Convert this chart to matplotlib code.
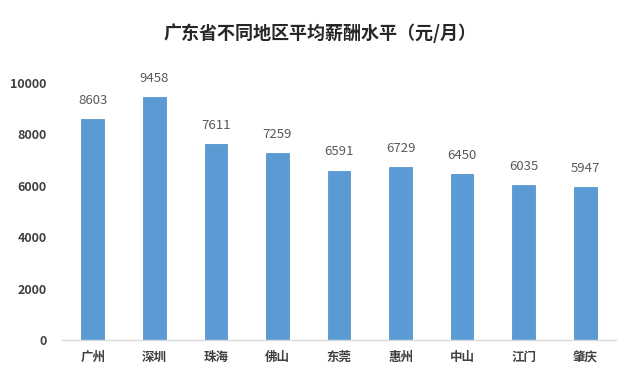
import matplotlib
matplotlib.use("Agg")
import matplotlib.pyplot as plt

plt.rcParams['font.family'] = ['Noto Sans CJK SC', 'DejaVu Sans']

cities = ["广州", "深圳", "珠海", "佛山", "东莞", "惠州", "中山", "江门", "肇庆"]
salaries = [8603, 9458, 7611, 7259, 6591, 6729, 6450, 6035, 5947]
yticks = [0, 2000, 4000, 6000, 8000, 10000]
title = "广东省不同地区平均薪酬水平（元/月）"

fig = plt.figure(figsize=(6.4, 3.77), dpi=100)
ax = fig.add_axes([62/640, 1-340/377, (616-62)/640, (340-83)/377])

x = range(len(cities))
bars = ax.bar(x, salaries, width=0.37, color="#5B9BD5", edgecolor="#4A8AC4", linewidth=0.5, zorder=2)
for xi, v in zip(x, salaries):
    ax.text(xi, v + 480, str(v), ha="center", va="bottom", fontsize=9.5, color="#595959")

ax.set_xlim(-0.5, len(cities) - 0.5)
ax.set_ylim(0, 10000)
ax.set_yticks(yticks)
ax.set_yticklabels([str(t) for t in yticks], fontsize=9, fontweight="bold", color="#404040")
ax.set_xticks(list(x))
ax.set_xticklabels(cities, fontsize=9, fontweight="bold", color="#404040")
ax.tick_params(axis="x", length=0, pad=8)
ax.tick_params(axis="y", length=0, pad=11)
for s in ["top", "right", "left"]:
    ax.spines[s].set_visible(False)
ax.spines["bottom"].set_color("#D9D9D9")
ax.spines["bottom"].set_linewidth(1)

fig.text(0.5, 1-33/377, title, ha="center", va="center", fontsize=13, fontweight="bold", color="#262626")

fig.savefig("out.png", dpi=100, facecolor="white")
